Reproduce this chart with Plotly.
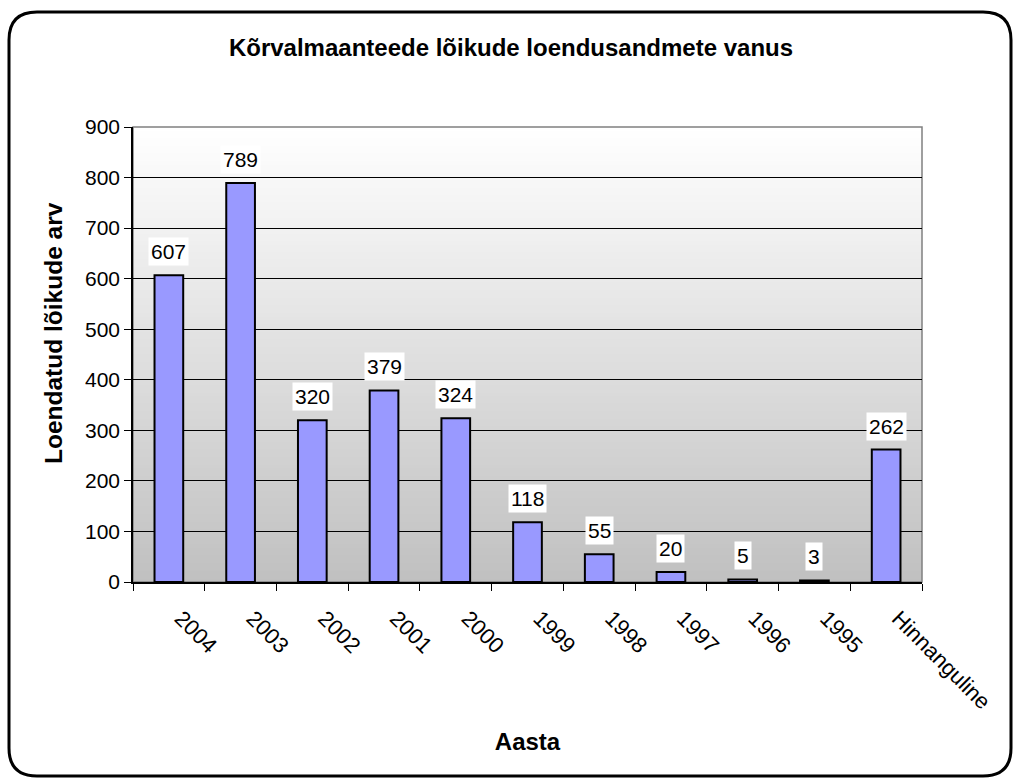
import plotly.graph_objects as go

categories = ["2004", "2003", "2002", "2001", "2000", "1999", "1998", "1997", "1996", "1995", "Hinnanguline"]
values = [607, 789, 320, 379, 324, 118, 55, 20, 5, 3, 262]
y_ticks = [0, 100, 200, 300, 400, 500, 600, 700, 800, 900]

W, H = 1016, 780
L, R, T, B = 133, 94, 127, 198
FONT = "Arial, Liberation Sans, sans-serif"
LABEL_SHIFT = 0.17  # Excel draws rotated labels starting slightly right of the category centre

fig = go.Figure()
fig.add_trace(go.Bar(
    x=list(range(len(categories))), y=values,
    marker=dict(color="#9999FF", line=dict(color="black", width=2)),
    width=0.4,
    hovertext=categories, hoverinfo="text+y",
))

shapes = []
# gradient background stripes
N = 120
for i in range(N):
    f0 = i / N
    f1 = (i + 1) / N
    t = (f0 + f1) / 2  # 0 bottom, 1 top
    c = int(round(192 + (255 - 192) * t))
    shapes.append(dict(type="rect", xref="x domain", yref="y domain",
                       x0=0, x1=1, y0=f0, y1=f1 + 0.002, layer="below",
                       line=dict(width=0), fillcolor=f"rgb({c},{c},{c})"))
# plot area border (gray)
shapes.append(dict(type="rect", xref="x domain", yref="y domain", x0=0, x1=1, y0=0, y1=1,
                   layer="below", line=dict(color="#808080", width=1.5), fillcolor="rgba(0,0,0,0)"))

# rounded outer border in paper coords
pw = W - L - R
ph = H - T - B
def px(x): return (x - L) / pw
def py(y): return 1 - (y - T) / ph
x0, x1, y0, y1, rad = 9, 1011, 12, 776, 28
path = (f"M {px(x0+rad)},{py(y0)} L {px(x1-rad)},{py(y0)} Q {px(x1)},{py(y0)} {px(x1)},{py(y0+rad)} "
        f"L {px(x1)},{py(y1-rad)} Q {px(x1)},{py(y1)} {px(x1-rad)},{py(y1)} "
        f"L {px(x0+rad)},{py(y1)} Q {px(x0)},{py(y1)} {px(x0)},{py(y1-rad)} "
        f"L {px(x0)},{py(y0+rad)} Q {px(x0)},{py(y0)} {px(x0+rad)},{py(y0)} Z")
shapes.append(dict(type="path", xref="paper", yref="paper", path=path,
                   line=dict(color="black", width=3), layer="above"))

annotations = []
for i, v in enumerate(values):
    annotations.append(dict(x=i, y=v, xref="x", yref="y", text=str(v), showarrow=False,
                            yanchor="bottom", yshift=9, bgcolor="white",
                            font=dict(family=FONT, size=21, color="black"), borderpad=2))
# y-axis title (Excel places it slightly above the plot centre)
annotations.append(dict(x=px(53), y=py(333), xref="paper", yref="paper",
                        text="<b>Loendatud lõikude arv</b>", textangle=-90, showarrow=False,
                        xanchor="center", yanchor="middle",
                        font=dict(family=FONT, size=24.5, color="black")))

fig.update_layout(
    width=W, height=H,
    margin=dict(l=L, r=R, t=T, b=B, autoexpand=False),
    paper_bgcolor="white", plot_bgcolor="rgba(0,0,0,0)",
    showlegend=False,
    title=dict(text="<b>Kõrvalmaanteede lõikude loendusandmete vanus</b>", x=511 / W, xref="container",
               xanchor="center", y=1 - 48 / H, yref="container", yanchor="middle",
               font=dict(family=FONT, size=24, color="black")),
    xaxis=dict(
        range=[-0.5, len(categories) - 0.5],
        tickmode="array", tickvals=[i + LABEL_SHIFT for i in range(len(categories))], ticktext=categories,
        tickangle=45, ticks="", showgrid=False, zeroline=False,
        showline=True, linecolor="black", linewidth=1.5,
        tickfont=dict(family=FONT, size=22, color="black"),
        ticklabelstandoff=13,
        minor=dict(tickmode="array", tickvals=[i - 0.5 for i in range(len(categories) + 1)],
                   ticks="outside", ticklen=7, tickcolor="black", showgrid=False),
        title=dict(text="<b>Aasta</b>", font=dict(family=FONT, size=24, color="black"), standoff=20),
    ),
    yaxis=dict(
        range=[0, 900], tickvals=y_ticks, ticks="outside", ticklen=7, tickcolor="black",
        showline=True, linecolor="black", linewidth=1.5,
        showgrid=True, gridcolor="black", gridwidth=1, zeroline=False,
        tickfont=dict(family=FONT, size=21, color="black"),
    ),
    shapes=shapes,
    annotations=annotations,
)

fig.write_html("out.html", post_script="document.body.style.margin='0';",
               config={"displayModeBar": False})
